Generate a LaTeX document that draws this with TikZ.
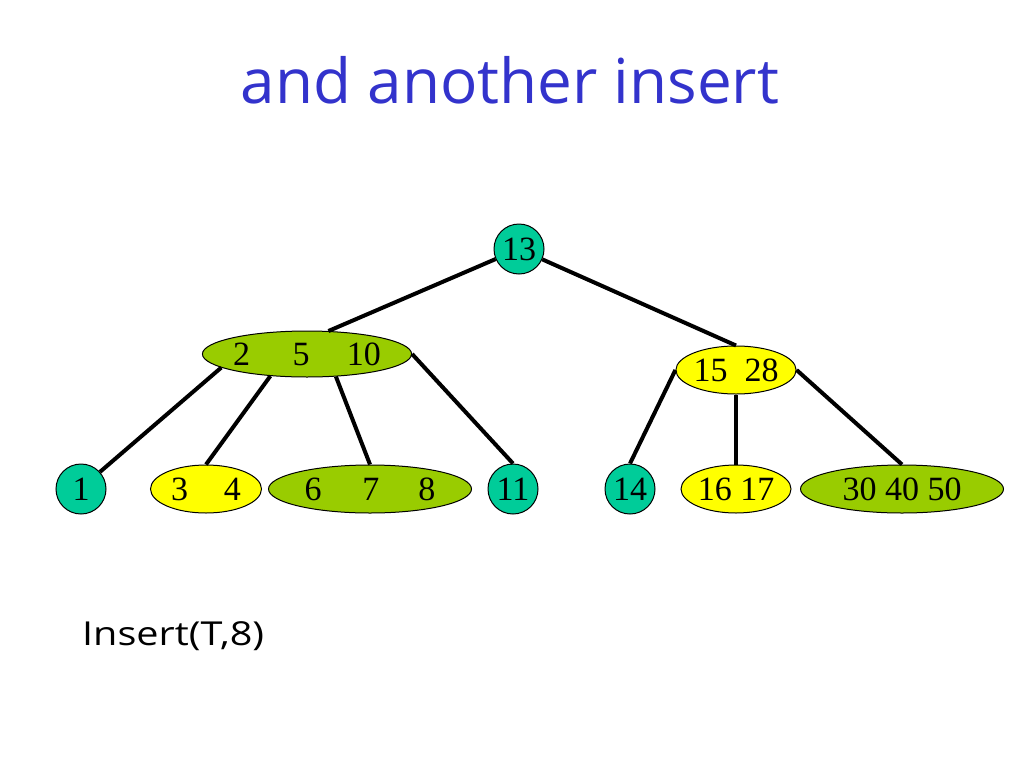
\documentclass[tikz,border=0pt]{standalone}
\usepackage{fontspec}
\setmainfont{Liberation Serif}
\newfontfamily\slidefont{Open Sans}
\usepackage{tikz}
\usetikzlibrary{shapes.geometric,positioning}
\definecolor{keyTeal}{RGB}{0,204,153}
\definecolor{keyGreen}{RGB}{153,204,0}
\definecolor{keyYellow}{RGB}{255,255,0}
\definecolor{titleBlue}{RGB}{51,51,204}
\tikzset{
  keyfont/.style={font=\fontsize{34}{34}\selectfont},
  leafkey/.style={circle, draw=black, line width=1pt, fill=keyTeal, minimum size=50pt, inner sep=0pt, keyfont},
  pairkey/.style={ellipse, draw=black, line width=1pt, fill=keyYellow, minimum width=110pt, minimum height=48pt, inner sep=0pt, keyfont},
  triplekey/.style={ellipse, draw=black, line width=1pt, fill=keyGreen, minimum width=203pt, minimum height=48pt, inner sep=0pt, keyfont},
  treeln/.style={line width=4pt, black},
}
\begin{document}
\begin{tikzpicture}[x=1pt, y=-1pt]
    \useasboundingbox (0,0) rectangle (1024,768);
    \node[text=titleBlue, font=\slidefont\fontsize{62}{62}\selectfont, anchor=base] (title) at (510,103) {and another insert};
    % inner nodes
    \node[leafkey] (n13) at (519,249) {13};
    \node[triplekey, minimum height=46pt] (n2510) at (307,354) {2\hspace{1.25em}5\hspace{1.1em}10};
    \node[pairkey] (n1528) at (736,370) {15\hspace{0.5em}28};
    % leaves
    \node[leafkey] (n1) at (81,489) {1};
    \node[pairkey, minimum width=111pt] (n34) at (206,489) {3\hspace{1.05em}4};
    \node[triplekey] (n678) at (370,489) {6\hspace{1.2em}7\hspace{1.15em}8};
    \node[leafkey] (n11) at (513,489) {11};
    \node[leafkey] (n14) at (630,489) {14};
    \node[pairkey] (n1617) at (736,489) {16 17};
    \node[triplekey] (n304050) at (902,489) {30 40 50};
    % edges
    \draw[treeln] (n13) -- (n2510.47);
    \draw[treeln] (n13) -- (n1528.north);
    \draw[treeln] (n2510.189) -- (n1.42);
    \draw[treeln] (n2510.211) -- (n34.north);
    \draw[treeln] (n2510.322) -- (n678.north);
    \draw[treeln] (n2510.east) -- (n11.north);
    \draw[treeln] (n1528.west) -- (n14.north);
    \draw[treeln] (n1528.south) -- (n1617.north);
    \draw[treeln] (n1528.east) -- (n304050.north);
    \node[font=\slidefont\fontsize{33}{33}\selectfont, anchor=base west, inner sep=0pt] (op) at (82,645) {\scalebox{1.2}[1]{Insert(T,8)}};
\end{tikzpicture}
\end{document}
